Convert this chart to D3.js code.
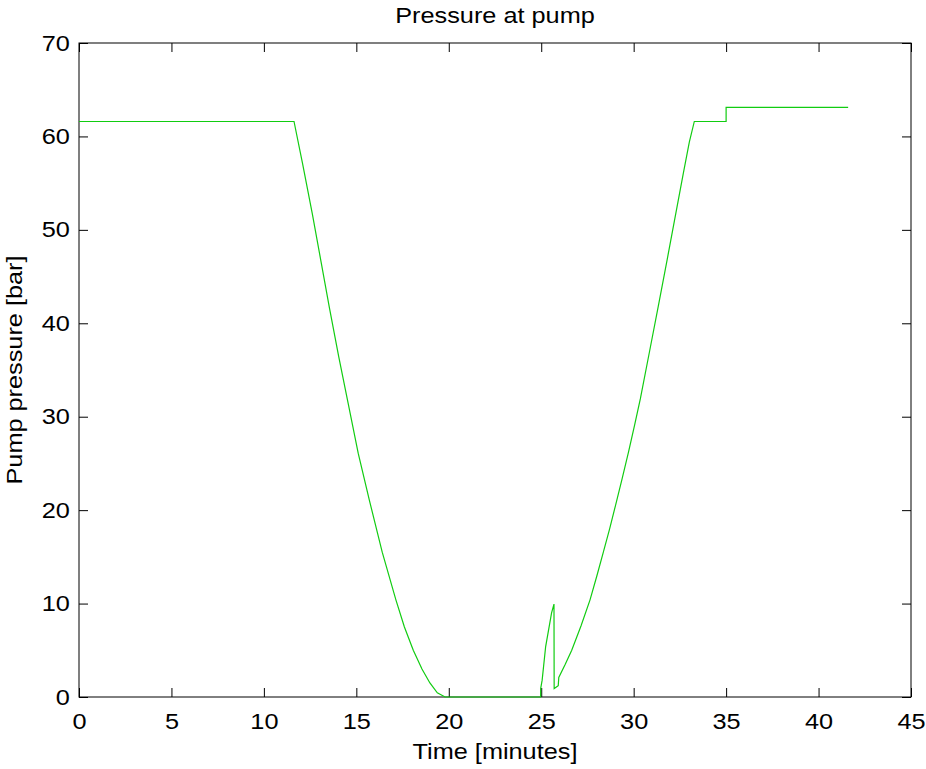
<!DOCTYPE html>
<html>
<head>
<meta charset="utf-8">
<script src="https://cdn.jsdelivr.net/npm/d3@7"></script>
<style>
  html, body { margin: 0; padding: 0; background: #fff; }
  svg { display: block; font-family: "Liberation Sans", Arial, sans-serif; }
</style>
</head>
<body>
<svg id="chart" width="926" height="769"></svg>
<script>
// ---- data ----
const timeMin = [0, 11.63, 12.1, 12.62, 13.1, 13.55, 14.05, 14.55, 15.1, 15.70, 16.4, 17.14, 17.6, 18.08, 18.55, 18.98, 19.38, 19.8,
                 24.97, 24.97, 25.05, 25.24, 25.56, 25.69, 25.70, 25.92, 25.95, 26.3, 26.65, 27.15,
                 27.64, 28.0, 28.36, 28.7, 29.03, 29.38, 29.72, 30.05, 30.36, 30.85, 31.33, 31.82, 32.32, 32.68, 33.01, 33.28,
                 35.0, 35.0, 41.6];
const pressureBar = [61.6, 61.6, 57.0, 51.7, 46.5, 41.6, 36.4, 31.5, 26.1, 21.1, 15.5, 10.4, 7.5, 5.0, 3.0, 1.5, 0.45, 0,
                     0, 0.9, 1.8, 5.4, 9.0, 9.95, 0.9, 1.2, 2.1, 3.5, 5.0, 7.6,
                     10.4, 12.9, 15.5, 18.0, 20.6, 23.4, 26.2, 29.1, 31.9, 36.9, 41.8, 46.9, 52.2, 56.0, 59.4, 61.6,
                     61.6, 63.1, 63.1];
const xTicks = [0, 5, 10, 15, 20, 25, 30, 35, 40, 45];
const yTicks = [0, 10, 20, 30, 40, 50, 60, 70];
const titleText = "Pressure at pump";
const xLabelText = "Time [minutes]";
const yLabelText = "Pump pressure [bar]";

// ---- layout ----
const L = 79, R = 911, T = 43, B = 697;
const SX = 1.15; // horizontal stretch of text in reference
const svg = d3.select("#chart");

const x = d3.scaleLinear().domain([0, 45]).range([L, R]);
const y = d3.scaleLinear().domain([0, 70]).range([B, T]);

function styleAxis(g) {
  g.select(".domain").remove();
  g.selectAll(".tick line").attr("stroke", "#000").attr("stroke-width", 1);
  g.selectAll("text").attr("font-size", 22).attr("fill", "#000")
    .attr("font-family", "Liberation Sans, Arial, sans-serif");
}

// bottom axis (inward ticks)
const gx = svg.append("g").attr("transform", `translate(0,${B})`)
  .call(d3.axisBottom(x).tickValues(xTicks).tickSizeInner(-9).tickSizeOuter(0).tickPadding(16).tickFormat(d3.format("d")));
styleAxis(gx);
gx.selectAll("text").attr("transform", `scale(${SX},1)`);

// left axis
const gy = svg.append("g").attr("transform", `translate(${L},0)`)
  .call(d3.axisLeft(y).tickValues(yTicks).tickSizeInner(-9).tickSizeOuter(0).tickPadding(8).tickFormat(d3.format("d")));
styleAxis(gy);
gy.selectAll("text").attr("transform", `scale(${SX},1)`);

// top & right axes (ticks only)
const gt = svg.append("g").attr("transform", `translate(0,${T})`)
  .call(d3.axisTop(x).tickValues(xTicks).tickSizeInner(-9).tickSizeOuter(0).tickFormat(""));
styleAxis(gt);
const gr = svg.append("g").attr("transform", `translate(${R},0)`)
  .call(d3.axisRight(y).tickValues(yTicks).tickSizeInner(-9).tickSizeOuter(0).tickFormat(""));
styleAxis(gr);

// box
svg.append("rect").attr("x", L).attr("y", T).attr("width", R - L).attr("height", B - T)
  .attr("fill", "none").attr("stroke", "#000").attr("stroke-width", 1);

// data line
const data = timeMin.map((t, i) => [t, pressureBar[i]]);
svg.append("path").datum(data)
  .attr("fill", "none").attr("stroke", "#11cc11").attr("stroke-width", 1.2)
  .attr("d", d3.line().x(d => x(d[0])).y(d => y(d[1])));

// titles
svg.append("text").attr("transform", `translate(${(L + R) / 2},23) scale(${SX},1)`)
  .attr("text-anchor", "middle").attr("font-size", 22).text(titleText);
svg.append("text").attr("transform", `translate(${(L + R) / 2},759) scale(${SX},1)`)
  .attr("text-anchor", "middle").attr("font-size", 22).text(xLabelText);
svg.append("text").attr("transform", `translate(22,${(T + B) / 2}) rotate(-90) scale(${SX},1)`)
  .attr("text-anchor", "middle").attr("font-size", 22).text(yLabelText);
</script>
</body>
</html>
